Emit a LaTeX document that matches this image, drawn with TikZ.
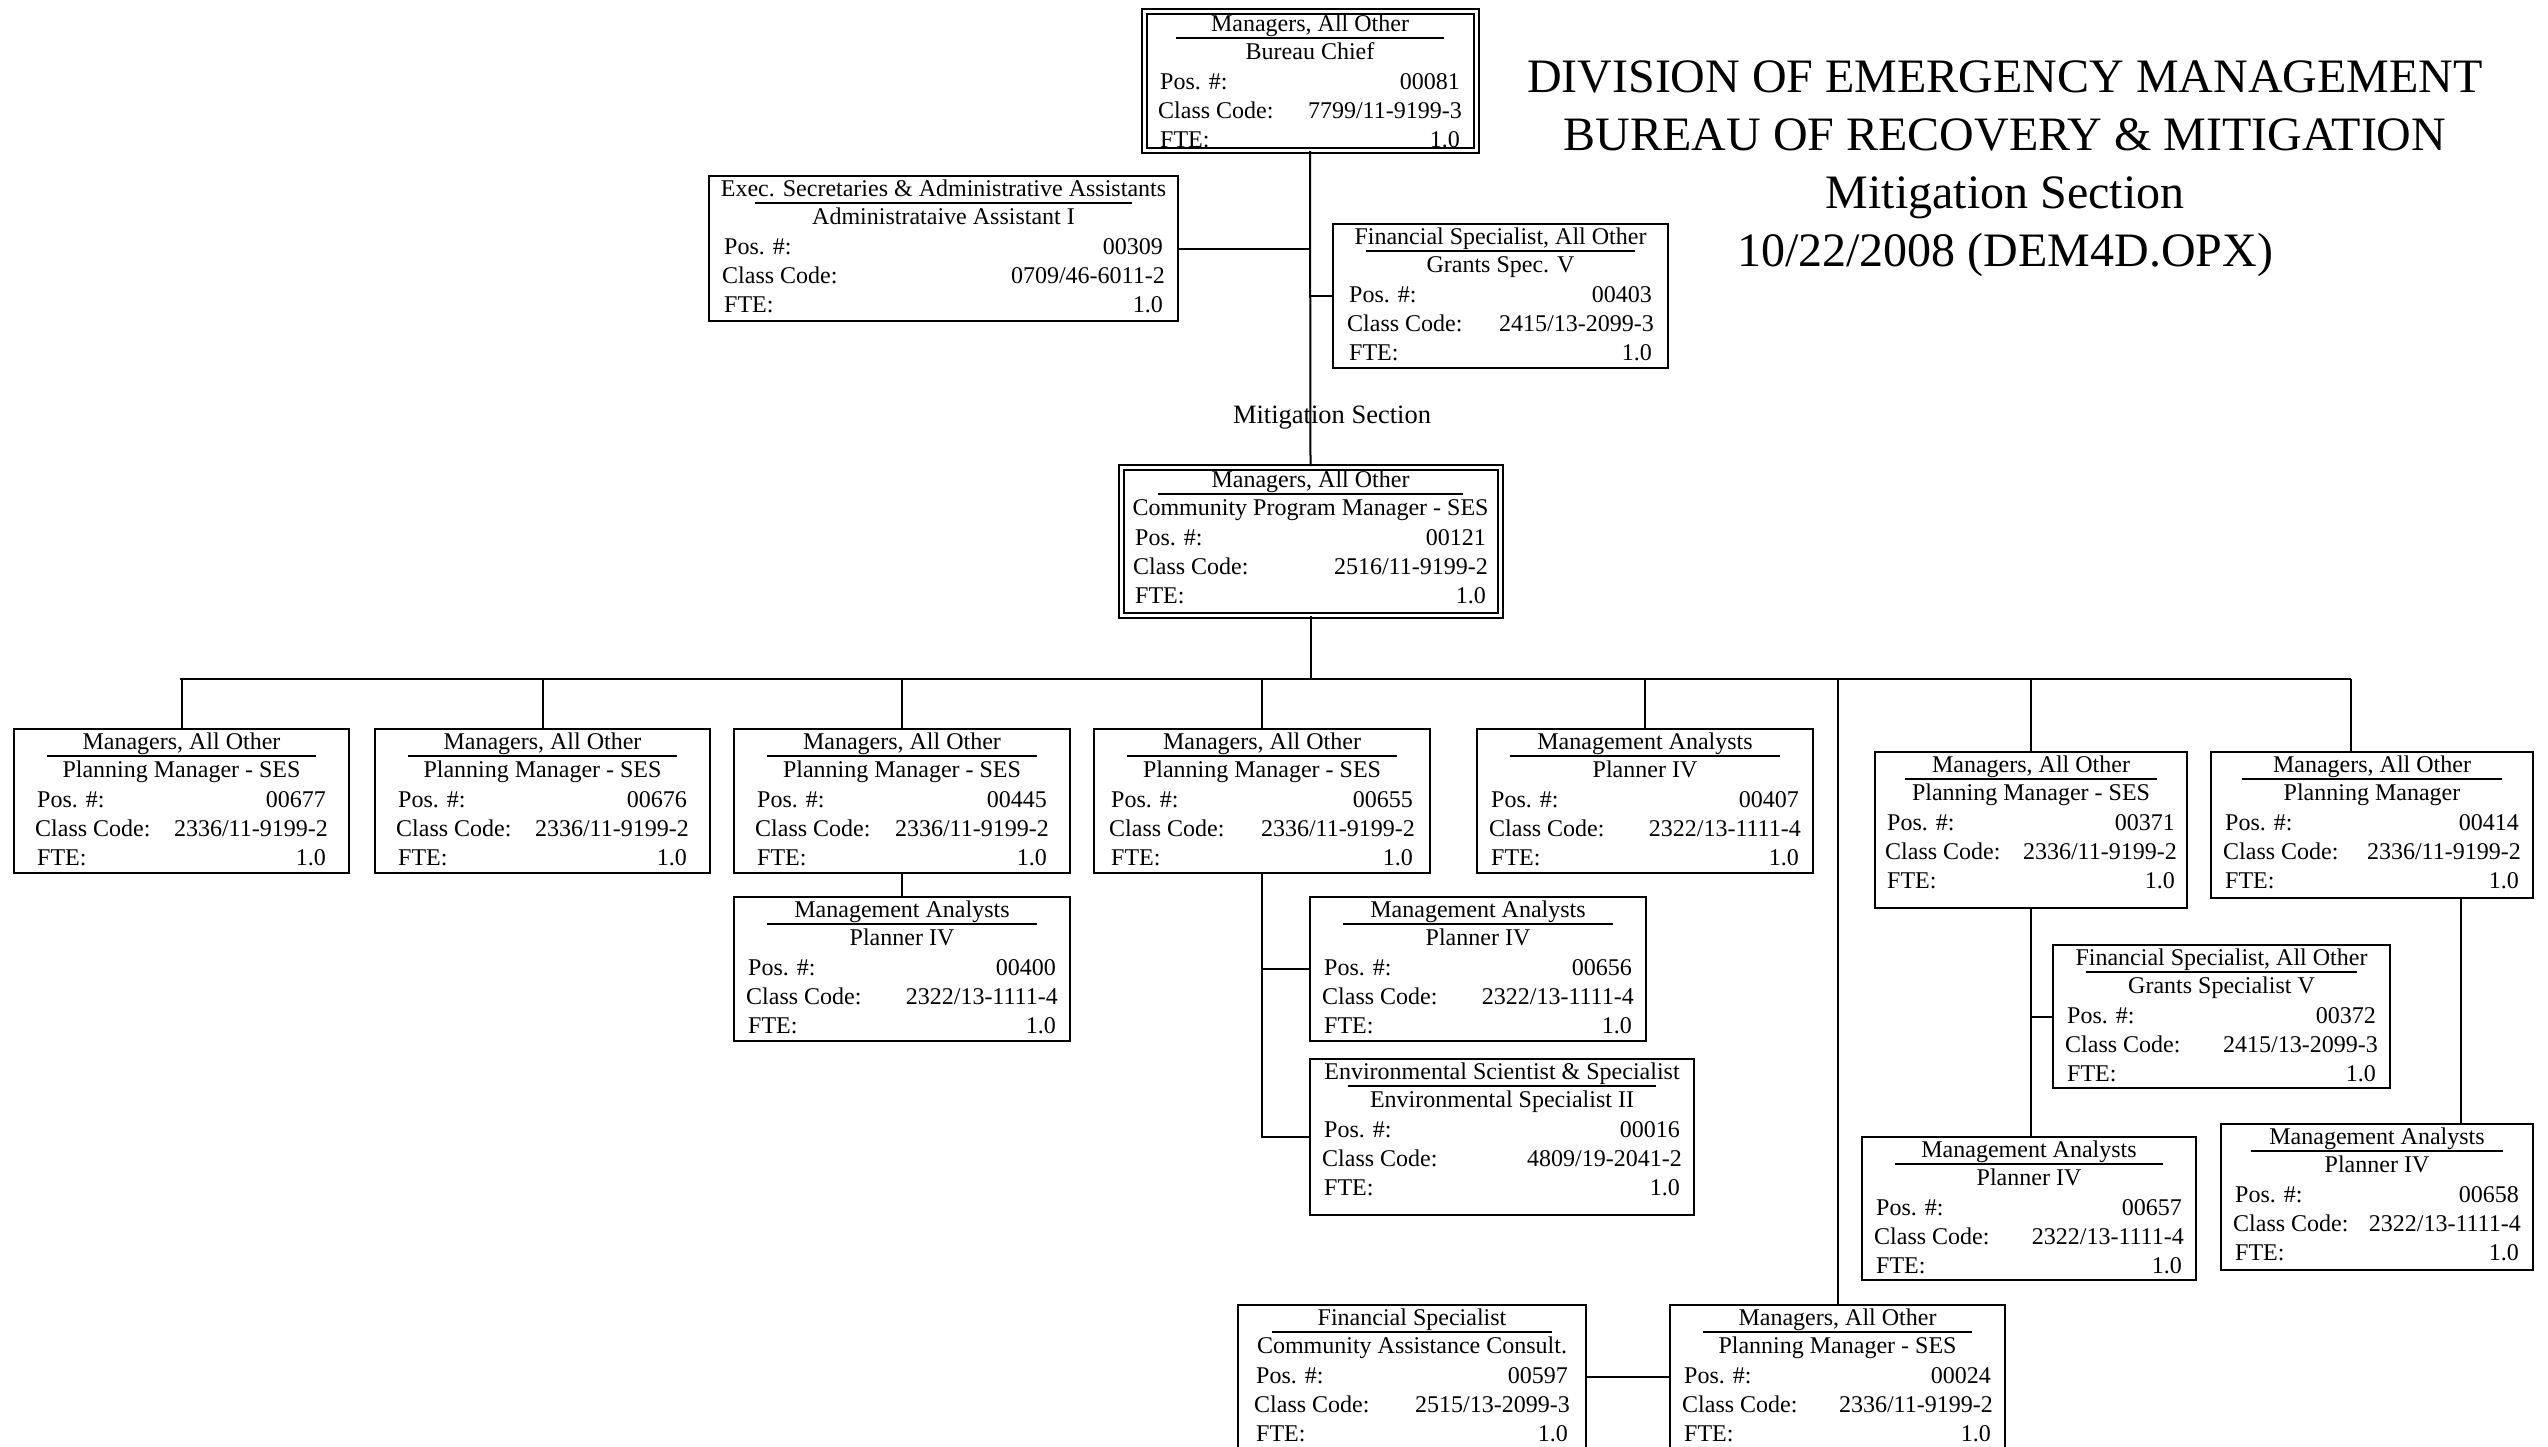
\documentclass[tikz,border=0pt]{standalone}
\usepackage{fontspec}
\setmainfont{Liberation Serif}
\usetikzlibrary{calc}

\newcommand{\jobtext}[6][15]{%
\node[txt] (#2-cat) at ($(#2.north)+(0,21)$) {#3};
\draw[rule] ($(#2.north west)!0.1!(#2.north east)+(0,28)$) -- ($(#2.north west)!0.9!(#2.north east)+(0,28)$);
\node[txt] (#2-tit) at ($(#2.north)+(0,49)$) {#4};
\node[txt, anchor=base west] (#2-pl) at ($(#2.north west)+(#1,79)$) {Pos. \#:};
\node[txt, anchor=base east] (#2-pv) at ($(#2.north east)+(-#1,79)$) {#5};
\node[txt, anchor=base west] (#2-cl) at ($(#2.north west)+(#1-2,108)$) {Class Code:};
\node[txt, anchor=base east] (#2-cv) at ($(#2.north east)+(-#1+2,108)$) {#6};
\node[txt, anchor=base west] (#2-fl) at ($(#2.north west)+(#1,137)$) {FTE:};
\node[txt, anchor=base east] (#2-fv) at ($(#2.north east)+(-#1,137)$) {1.0};
}

\begin{document}
\begin{tikzpicture}[x=1pt,y=-1pt]

\tikzstyle{job} = [draw, line width=2pt, inner sep=0, anchor=north west]
\tikzstyle{head} = [job, double, double distance=3pt]
\tikzstyle{txt} = [inner sep=0, anchor=base, font=\fontsize{24}{29}\selectfont]
\tikzstyle{headline} = [inner sep=0, anchor=base, font=\fontsize{48}{58}\selectfont]
\tikzstyle{rule} = [line width=2pt]
\tikzstyle{wire} = [line width=2pt]

\fill[white] (0,0) rectangle (2548,1446);
\useasboundingbox (0,0) rectangle (2548,1446);


\node[headline] (t1) at (2005,92) {DIVISION OF EMERGENCY MANAGEMENT};
\node[headline] (t2) at (2005,150) {BUREAU OF RECOVERY \& MITIGATION};
\node[headline] (t3) at (2005,208) {Mitigation Section};
\node[headline] (t4) at (2005,266) {10/22/2008 (DEM4D.OPX)};

\node[txt, font=\fontsize{26.5}{30}\selectfont] (seclabel) at (1332,423) {Mitigation Section};


\node[head, minimum width=332, minimum height=139] (p00081) at (1143,10) {};
\jobtext[17]{p00081}{Managers, All Other}{Bureau Chief}{00081}{7799/11-9199-3}

\node[job, minimum width=469, minimum height=145] (p00309) at (708,175) {};
\jobtext[16]{p00309}{Exec. Secretaries \& Administrative Assistants}{Administrataive Assistant I}{00309}{0709/46-6011-2}

\node[job, minimum width=335, minimum height=144] (p00403) at (1332,223) {};
\jobtext[17]{p00403}{Financial Specialist, All Other}{Grants Spec. V}{00403}{2415/13-2099-3}

\node[head, minimum width=379, minimum height=148] (p00121) at (1120,466) {};
\jobtext{p00121}{Managers, All Other}{Community Program Manager - SES}{00121}{2516/11-9199-2}


\node[job, minimum width=335, minimum height=144] (p00677) at (13,728) {};
\jobtext[24]{p00677}{Managers, All Other}{Planning Manager - SES}{00677}{2336/11-9199-2}

\node[job, minimum width=335, minimum height=144] (p00676) at (374,728) {};
\jobtext[24]{p00676}{Managers, All Other}{Planning Manager - SES}{00676}{2336/11-9199-2}

\node[job, minimum width=336, minimum height=144] (p00445) at (733,728) {};
\jobtext[24]{p00445}{Managers, All Other}{Planning Manager - SES}{00445}{2336/11-9199-2}

\node[job, minimum width=336, minimum height=144] (p00655) at (1093,728) {};
\jobtext[18]{p00655}{Managers, All Other}{Planning Manager - SES}{00655}{2336/11-9199-2}

\node[job, minimum width=336, minimum height=144] (p00407) at (1476,728) {};
\jobtext{p00407}{Management Analysts}{Planner IV}{00407}{2322/13-1111-4}

\node[job, minimum width=312, minimum height=156] (p00371) at (1874,751) {};
\jobtext[13]{p00371}{Managers, All Other}{Planning Manager - SES}{00371}{2336/11-9199-2}

\node[job, minimum width=322, minimum height=146] (p00414) at (2210,751) {};
\jobtext{p00414}{Managers, All Other}{Planning Manager}{00414}{2336/11-9199-2}


\node[job, minimum width=336, minimum height=144] (p00400) at (733,896) {};
\jobtext{p00400}{Management Analysts}{Planner IV}{00400}{2322/13-1111-4}

\node[job, minimum width=336, minimum height=144] (p00656) at (1309,896) {};
\jobtext{p00656}{Management Analysts}{Planner IV}{00656}{2322/13-1111-4}

\node[job, minimum width=384, minimum height=156] (p00016) at (1309,1058) {};
\jobtext{p00016}{Environmental Scientist \& Specialist}{Environmental Specialist II}{00016}{4809/19-2041-2}

\node[job, minimum width=337, minimum height=143] (p00372) at (2052,944) {};
\jobtext{p00372}{Financial Specialist, All Other}{Grants Specialist V}{00372}{2415/13-2099-3}

\node[job, minimum width=334, minimum height=143] (p00657) at (1861,1136) {};
\jobtext{p00657}{Management Analysts}{Planner IV}{00657}{2322/13-1111-4}

\node[job, minimum width=312, minimum height=146] (p00658) at (2220,1123) {};
\jobtext{p00658}{Management Analysts}{Planner IV}{00658}{2322/13-1111-4}

\node[job, minimum width=348, minimum height=144] (p00597) at (1237,1304) {};
\jobtext[19]{p00597}{Financial Specialist}{Community Assistance Consult.}{00597}{2515/13-2099-3}

\node[job, minimum width=335, minimum height=144] (p00024) at (1669,1304) {};
\jobtext{p00024}{Managers, All Other}{Planning Manager - SES}{00024}{2336/11-9199-2}


\coordinate (busL) at (180,679);
\coordinate (busR) at (2351,679);
\coordinate (drop) at ($(p00414.south)+(89,0)$);

\draw[wire] (p00081.south) -- (p00121.north);
\draw[wire] (p00309.east) -- (p00309.east -| p00081.south);
\draw[wire] (p00403.west) -- (p00403.west -| p00081.south);

\draw[wire] (p00121.south) -- (p00121.south |- busL);
\draw[wire] (busL) -- (busR);
\foreach \b in {p00677,p00676,p00445,p00655,p00407,p00371,p00024}
  \draw[wire] (\b.north) -- (\b.north |- busL);
\draw[wire] (busR) -- (busR |- p00414.north);

\draw[wire] (p00445.south) -- (p00400.north);
\draw[wire] (p00655.south) |- (p00016.west);
\draw[wire] (p00656.west) -- (p00656.west -| p00655.south);

\draw[wire] (p00371.south) -- (p00371.south |- p00657.north);
\draw[wire] (p00372.west) -- (p00372.west -| p00371.south);
\draw[wire] (drop) -- (drop |- p00658.north);

\draw[wire] (p00597.east) -- (p00024.west);

\end{tikzpicture}
\end{document}
